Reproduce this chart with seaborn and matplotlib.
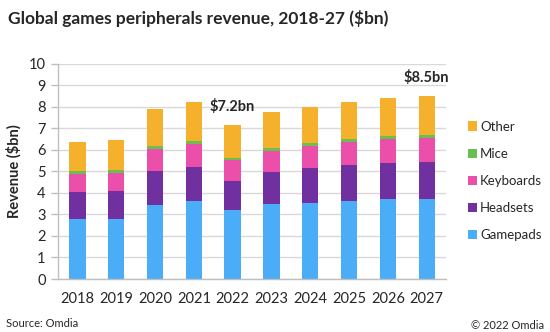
import matplotlib
matplotlib.use("Agg")
import matplotlib.pyplot as plt
from matplotlib.patches import Patch
import numpy as np
import pandas as pd
import seaborn as sns

years = ["2018", "2019", "2020", "2021", "2022", "2023", "2024", "2025", "2026", "2027"]
gamepads  = [2.78, 2.78, 3.43, 3.60, 3.19, 3.49, 3.55, 3.64, 3.69, 3.69]
headsets  = [1.25, 1.30, 1.56, 1.62, 1.38, 1.49, 1.60, 1.65, 1.69, 1.72]
keyboards = [0.85, 0.85, 1.04, 1.06, 0.93, 0.96, 1.02, 1.07, 1.10, 1.15]
mice      = [0.11, 0.12, 0.14, 0.14, 0.13, 0.14, 0.14, 0.14, 0.14, 0.12]
other     = [1.35, 1.38, 1.71, 1.78, 1.53, 1.66, 1.69, 1.73, 1.78, 1.83]
series_names = ["Gamepads", "Headsets", "Keyboards", "Mice", "Other"]
annotations = {"2022": "$7.2bn", "2027": "$8.5bn"}
yticks = list(range(0, 11))

colors = {"Gamepads": "#4BACF7", "Headsets": "#7030A0", "Keyboards": "#EC4FAA",
          "Mice": "#6BBF4E", "Other": "#F5B12B"}

sns.set_theme(style="white")
plt.rcParams["font.family"] = ["Lato", "DejaVu Sans"]

df = pd.DataFrame({"year": years, "Gamepads": gamepads, "Headsets": headsets,
                   "Keyboards": keyboards, "Mice": mice, "Other": other})

fig = plt.figure(figsize=(5.5, 3.32), dpi=100)
ax = fig.add_axes([0.1055, 0.1596, 0.7055, 0.6491])

bottom = np.zeros(len(years))
for name in series_names:
    sns.barplot(data=df, x="year", y=name, order=years, color=colors[name],
                width=0.42, bottom=bottom.copy(), ax=ax, linewidth=0,
                saturation=1)
    bottom += df[name].values

ax.set_ylim(0, 10)
ax.set_xlim(-0.5, len(years) - 0.5)
ax.set_yticks(yticks)
ax.set_yticklabels([str(t) for t in yticks], fontsize=10.5)
ax.yaxis.grid(True, color="#D9D9D9", linewidth=1)
ax.set_axisbelow(True)
for s in ["top", "right"]:
    ax.spines[s].set_visible(False)
for s in ["left", "bottom"]:
    ax.spines[s].set_color("#BFBFBF")
    ax.spines[s].set_linewidth(1)

ax.set_xticks(range(len(years)))
ax.set_xticklabels(years, fontsize=10.5)
ax.tick_params(axis="x", length=0, pad=9)
ax.set_xticks(np.arange(-0.5, len(years), 1), minor=True)
ax.tick_params(axis="x", which="minor", length=5, color="#BFBFBF", width=1)
ax.tick_params(axis="y", length=5, color="#BFBFBF", width=1, left=True, pad=4)
ax.set_xlabel("")
ax.set_ylabel("Revenue ($bn)", fontsize=10.5, fontweight="bold", labelpad=14)
ax.yaxis.set_label_coords(-0.095, 0.5)

totals = df[series_names].sum(axis=1).values
for yr, label in annotations.items():
    i = years.index(yr)
    ax.text(i, totals[i] + 0.84, label, ha="center", va="center",
            fontsize=10.5, fontweight="bold")

handles = [Patch(facecolor=colors[n], edgecolor="none", label=n)
           for n in reversed(series_names)]
fig.legend(handles=handles, loc="center left", bbox_to_anchor=(0.85, 0.455),
           frameon=False, fontsize=9.5, handlelength=0.7, handleheight=0.7,
           handletextpad=0.25, labelspacing=1.15, borderpad=0, borderaxespad=0)

fig.text(0.015, 0.945, "Global games peripherals revenue, 2018-27 ($bn)",
         fontsize=12.5, fontweight="bold", ha="left", va="center")
fig.text(0.01, 0.025, "Source: Omdia", fontsize=8, ha="left", va="center")
fig.text(0.99, 0.02, "\u00a9 2022 Omdia", fontsize=8, ha="right", va="center")

fig.savefig("out.png", dpi=100)
